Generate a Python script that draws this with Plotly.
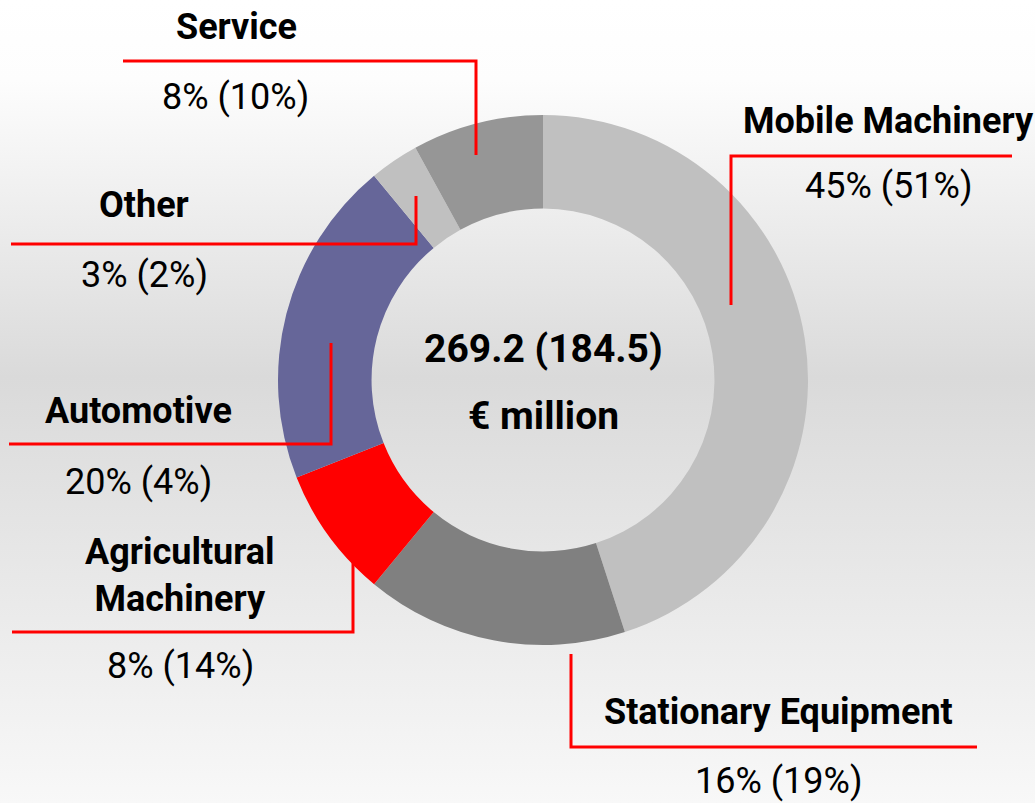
import plotly.graph_objects as go

# ---- data ----
segments = ["Mobile Machinery", "Stationary Equipment", "Agricultural Machinery",
            "Automotive", "Other", "Service"]
share_current = [45, 16, 8, 20, 3, 8]        # % of 269.2 € million
share_prior = [51, 19, 14, 4, 2, 10]          # % of 184.5 € million (prior year)
seg_colors = ["#c0c0c0", "#808080", "#ff0000", "#666699", "#c0c0c0", "#969696"]
name_labels = ["Mobile Machinery", "Stationary Equipment", "Agricultural<br>Machinery",
               "Automotive", "Other", "Service"]
total_current = 269.2
total_prior = 184.5

W, H = 1035, 803
FONT = "Roboto, Liberation Sans, sans-serif"
LABEL_SIZE = 36
CENTER_SIZE = 39

fig = go.Figure()

# background gradient (white at top, grey in middle, light at bottom)
fig.add_trace(go.Scatter(
    x=[0, W, W, 0, 0], y=[0, 0, H, H, 0],
    mode="lines", line=dict(width=0), fill="toself",
    fillgradient=dict(type="vertical",
                      colorscale=[[0.0, "#ffffff"], [0.10, "#fdfdfd"],
                                  [0.47, "#dadada"], [1.0, "#f8f8f8"]],
                      start=0, stop=H),
    hoverinfo="skip", showlegend=False))

# donut
cx, cy, R = 543, 380, 265
fig.add_trace(go.Pie(
    labels=segments, values=share_current, sort=False, direction="clockwise",
    rotation=0, hole=0.647, marker=dict(colors=seg_colors, line=dict(width=0)),
    textinfo="none", hoverinfo="label+percent", showlegend=False,
    domain=dict(x=[(cx - R) / W, (cx + R) / W],
                y=[1 - (cy + R) / H, 1 - (cy - R) / H])))

# label layout: (name x, name y, pct x, pct y, leader polyline)
layout_info = [
    (888, 121, 888, 186, [(731, 305), (731, 156), (1012, 156)]),
    (778, 712, 778, 781, [(571, 654), (571, 747), (977, 747)]),
    (180, 575, 180, 666, [(12, 632), (353, 632), (353, 557)]),
    (138, 411, 138, 482, [(9, 444), (331, 444), (331, 343)]),
    (144, 205, 144, 275, [(11, 244), (416, 244), (416, 196)]),
    (236, 27, 235, 97, [(123, 61), (476, 61), (476, 155)]),
]

shapes = []
annotations = []
for i, (nx, ny, px, py, pts) in enumerate(layout_info):
    path = "M " + " L ".join(f"{x},{y}" for x, y in pts)
    shapes.append(dict(type="path", path=path, xref="x", yref="y",
                       line=dict(color="#ff0000", width=3), layer="above"))
    annotations.append(dict(x=nx, y=ny, xref="x", yref="y", showarrow=False,
                            text=f"<b>{name_labels[i]}</b>",
                            font=dict(family=FONT, size=LABEL_SIZE, color="#000000"),
                            xanchor="center", yanchor="middle"))
    annotations.append(dict(x=px, y=py, xref="x", yref="y", showarrow=False,
                            text=f"{share_current[i]}% ({share_prior[i]}%)",
                            font=dict(family=FONT, size=LABEL_SIZE, color="#000000"),
                            xanchor="center", yanchor="middle"))

annotations.append(dict(x=cx, y=349, xref="x", yref="y", showarrow=False,
                        text=f"<b>{total_current} ({total_prior})</b>",
                        font=dict(family=FONT, size=CENTER_SIZE, color="#000000"),
                        xanchor="center", yanchor="middle"))
annotations.append(dict(x=cx, y=416, xref="x", yref="y", showarrow=False,
                        text="<b>€ million</b>",
                        font=dict(family=FONT, size=CENTER_SIZE, color="#000000"),
                        xanchor="center", yanchor="middle"))

fig.update_layout(
    width=W, height=H, margin=dict(l=0, r=0, t=0, b=0),
    paper_bgcolor="#ffffff", plot_bgcolor="rgba(0,0,0,0)",
    xaxis=dict(range=[0, W], visible=False, fixedrange=True),
    yaxis=dict(range=[H, 0], visible=False, fixedrange=True),
    shapes=shapes, annotations=annotations, showlegend=False)

fig.write_html("out.html", config={"displayModeBar": False},
               post_script="document.body.style.margin='0px';")
